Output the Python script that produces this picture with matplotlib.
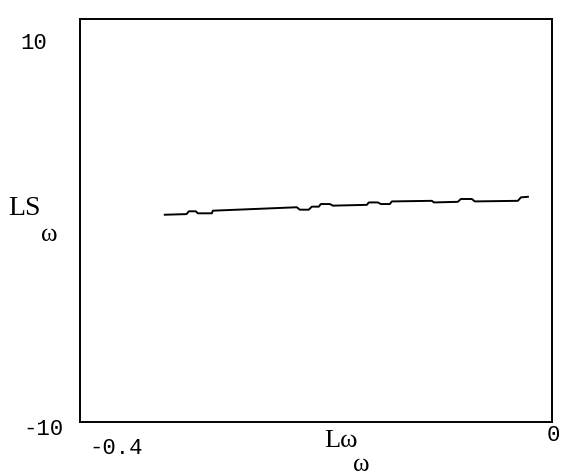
import matplotlib.pyplot as plt

# values (L_omega vs LS_omega)
l_omega = [-0.328, -0.3096, -0.3076, -0.3017, -0.300, -0.2881, -0.2873, -0.2161,
           -0.2136, -0.206, -0.2034, -0.1975, -0.1958, -0.1881, -0.1856, -0.1568,
           -0.1551, -0.1475, -0.1449, -0.1373, -0.1356, -0.1017, -0.100, -0.0797,
           -0.0771, -0.0678, -0.0653, -0.0288, -0.0263, -0.0203]
ls_omega = [0.29, 0.32, 0.46, 0.46, 0.36, 0.36, 0.49, 0.66,
            0.54, 0.54, 0.69, 0.69, 0.82, 0.82, 0.74, 0.78,
            0.90, 0.90, 0.82, 0.82, 0.95, 0.98, 0.90, 0.93,
            1.07, 1.07, 0.95, 0.98, 1.15, 1.18]

x_tick_labels = ['-0.4', '0']
y_tick_labels = ['-10', '10']

fig = plt.figure(figsize=(5.62, 4.77), dpi=100)
ax = fig.add_axes([0.142, 0.113, 0.840, 0.845])
ax.plot(l_omega, ls_omega, color='black', linewidth=1.4)

ax.set_xlim(-0.4, 0)
ax.set_ylim(-10, 10)
ax.set_xticks([])
ax.set_yticks([])
for s in ax.spines.values():
    s.set_linewidth(1.4)

mono = 'Liberation Mono'
serif = 'Liberation Serif'
# tick labels, placed like the original (outside the frame, no tick marks)
ax.text(-0.0975, 0.943, y_tick_labels[1], transform=ax.transAxes, fontsize=16,
        family=mono, ha='center', va='center')
ax.text(-0.078, -0.017, y_tick_labels[0], transform=ax.transAxes, fontsize=16,
        family=mono, ha='center', va='center')
ax.text(0.076, -0.062, x_tick_labels[0], transform=ax.transAxes, fontsize=16,
        family=mono, ha='center', va='center')
ax.text(1.017, -0.032, x_tick_labels[1], transform=ax.transAxes, fontsize=16,
        family=mono, ha='right', va='center')

# axis labels with lowered subscript
ax.text(0.553, -0.045, 'Lω', transform=ax.transAxes, fontsize=19,
        family=serif, ha='center', va='center')
ax.text(0.597, -0.104, 'ω', transform=ax.transAxes, fontsize=18,
        family=serif, ha='center', va='center')
ax.text(-0.117, 0.533, 'LS', transform=ax.transAxes, fontsize=20,
        family=serif, ha='center', va='center')
ax.text(-0.064, 0.467, 'ω', transform=ax.transAxes, fontsize=18,
        family=serif, ha='center', va='center')

fig.savefig('out.png', dpi=100)
